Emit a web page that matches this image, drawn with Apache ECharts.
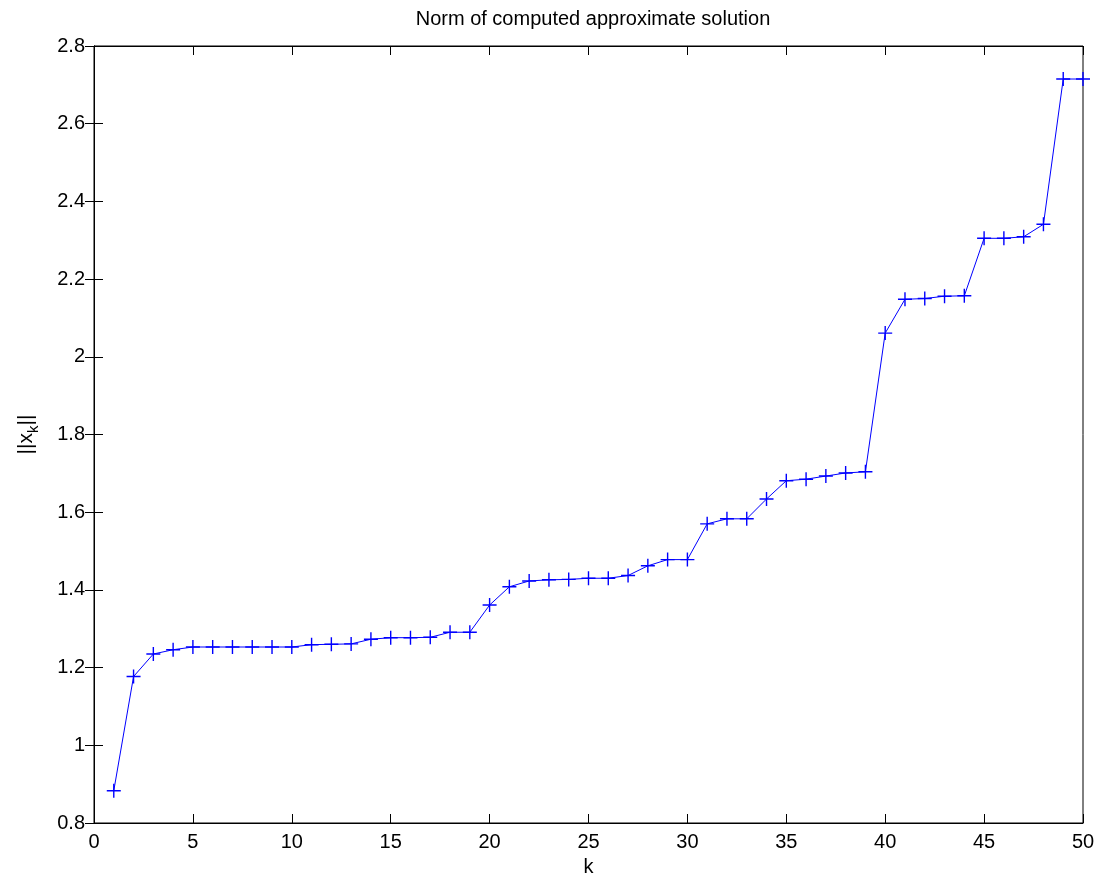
<!DOCTYPE html>
<html>
<head>
<meta charset="utf-8">
<title>Norm of computed approximate solution</title>
<script src="https://cdn.jsdelivr.net/npm/echarts@6/dist/echarts.min.js"></script>
<style>
  html, body { margin: 0; padding: 0; background: #fff; }
</style>
</head>
<body>
<div id="main" style="width: 1100px;height: 882px;"></div>
<script>
  // k = 1..50
  var kValues = [1, 2, 3, 4, 5, 6, 7, 8, 9, 10,
    11, 12, 13, 14, 15, 16, 17, 18, 19, 20,
    21, 22, 23, 24, 25, 26, 27, 28, 29, 30,
    31, 32, 33, 34, 35, 36, 37, 38, 39, 40,
    41, 42, 43, 44, 45, 46, 47, 48, 49, 50];
  // ||x_k||
  var normValues = [0.883, 1.177, 1.235, 1.246, 1.253, 1.253, 1.253, 1.253, 1.253, 1.253,
    1.259, 1.260, 1.261, 1.273, 1.277, 1.277, 1.278, 1.291, 1.291, 1.361,
    1.408, 1.423, 1.426, 1.427, 1.430, 1.430, 1.437, 1.462, 1.478, 1.478,
    1.570, 1.583, 1.583, 1.634, 1.681, 1.685, 1.693, 1.701, 1.704, 2.061,
    2.148, 2.150, 2.156, 2.157, 2.305, 2.305, 2.309, 2.341, 2.715, 2.715];
  var xTicks = [0, 50, 5];      // min, max, interval
  var yTicks = [0.8, 2.8, 0.2]; // min, max, interval

  var font = 'Liberation Sans, Arial, Helvetica, sans-serif';
  var plus = 'path://M0,6.3H14V7.7H0Z M6.3,0H7.7V14H6.3Z';

  var points = [];
  for (var i = 0; i < kValues.length; i++) {
    points.push([kValues[i], normValues[i]]);
  }

  var lineCfg = { lineStyle: { color: '#000', width: 1 } };
  var tickCfg = { inside: true, length: 9, lineStyle: { color: '#000', width: 1 } };

  var chart = echarts.init(document.getElementById('main'));
  chart.setOption({
    animation: false,
    backgroundColor: '#fff',
    title: {
      text: 'Norm of computed approximate solution',
      left: 588,
      textAlign: 'center',
      top: 4,
      textStyle: { fontFamily: font, fontSize: 20, fontWeight: 'normal', color: '#000' }
    },
    grid: {
      left: 94,
      right: 17,
      top: 46,
      bottom: 57,
      show: true,
      borderColor: '#000',
      borderWidth: 1
    },
    xAxis: [{
      type: 'value',
      min: xTicks[0],
      max: xTicks[1],
      interval: xTicks[2],
      name: 'k',
      nameLocation: 'middle',
      nameGap: 34,
      nameTextStyle: { fontFamily: font, fontSize: 20, color: '#000' },
      axisLine: lineCfg,
      axisTick: tickCfg,
      axisLabel: { fontFamily: font, fontSize: 20, color: '#000', margin: 9 },
      splitLine: { show: false }
    }, {
      type: 'value',
      position: 'top',
      min: xTicks[0],
      max: xTicks[1],
      interval: xTicks[2],
      axisLine: lineCfg,
      axisTick: tickCfg,
      axisLabel: { show: false },
      splitLine: { show: false }
    }],
    yAxis: [{
      type: 'value',
      min: yTicks[0],
      max: yTicks[1],
      interval: yTicks[2],
      name: '{n|||x}{s|k}{n|||}',
      nameLocation: 'middle',
      nameGap: 53,
      nameTextStyle: {
        fontFamily: font,
        color: '#000',
        rich: {
          n: { fontFamily: font, fontSize: 21, color: '#000', lineHeight: 30 },
          s: { fontFamily: font, fontSize: 15, color: '#000', lineHeight: 15, verticalAlign: 'bottom' }
        }
      },
      axisLine: lineCfg,
      axisTick: tickCfg,
      axisLabel: { fontFamily: font, fontSize: 20, color: '#000', margin: 9 },
      splitLine: { show: false }
    }, {
      type: 'value',
      position: 'right',
      min: yTicks[0],
      max: yTicks[1],
      interval: yTicks[2],
      axisLine: lineCfg,
      axisTick: tickCfg,
      axisLabel: { show: false },
      splitLine: { show: false }
    }],
    series: [{
      name: '||x_k||',
      type: 'line',
      xAxisIndex: 0,
      yAxisIndex: 0,
      data: points,
      clip: false,
      symbol: plus,
      symbolSize: 14,
      showAllSymbol: true,
      itemStyle: { color: '#0000ff' },
      lineStyle: { color: '#0000ff', width: 1 }
    }]
  });
</script>
</body>
</html>
